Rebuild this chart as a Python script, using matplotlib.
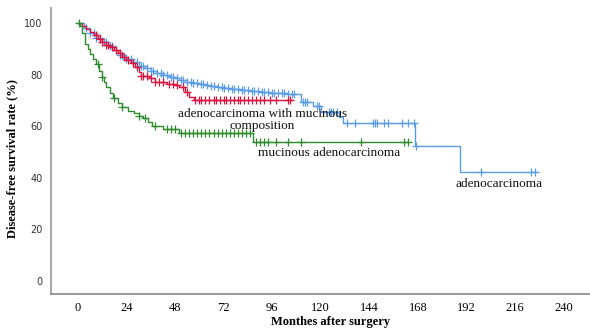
import matplotlib
matplotlib.use("Agg")
import matplotlib.pyplot as plt
import numpy as np

# step curves: (time in months, survival %)
adeno_t = [0, 3, 6, 9, 12, 15, 18, 21, 24, 27, 30, 33, 36, 39, 42, 45, 48, 51, 54, 57,
           60, 63, 66, 69, 72, 76, 80, 85, 90, 95, 100, 104, 108, 110, 116, 120, 129, 131,
           166.4, 188.6, 226.7]
adeno_s = [100, 98, 96, 94.2, 92.5, 91, 89.5, 87.7, 86, 84.7, 83.5, 82.5, 81.5, 80.6, 79.8,
           79.1, 78.5, 77.9, 77.3, 76.7, 76.2, 75.8, 75.5, 75.1, 74.8, 74.4, 74, 73.7, 73.3,
           73, 72.8, 72.5, 72.3, 69.4, 67.8, 65.5, 63.6, 61.2, 52.3, 42.2, 42.2]

mixed_t = [0, 2, 4, 6, 8, 10, 12, 14, 16, 18, 20, 22, 24, 26, 28, 30, 31, 35, 38, 44, 48,
           50, 53, 55, 57.5, 106]
mixed_s = [100, 98.8, 97.6, 96.5, 95.2, 93.6, 92.5, 91.5, 90.5, 89.5, 88.4, 87, 85.5, 84.5,
           83, 81, 79.5, 78.6, 77, 76.5, 76, 75, 73.3, 71.5, 70, 70]

mucin_t = [0, 1, 2, 3.5, 5, 6, 7.5, 9, 10.5, 12, 13, 14, 16, 17.5, 20, 22, 25, 27.5, 30,
           32, 34.5, 36.5, 42, 50, 86.5, 163]
mucin_s = [100, 99, 96, 92, 90, 88, 86, 84, 81.5, 79, 77, 75, 73, 71, 69, 67.5, 66, 65, 64,
           63, 61.5, 60, 59, 57.3, 53.8, 53.8]

# censored observations (months)
adeno_cens = [4, 6, 8, 9, 11, 13, 14, 16, 17, 19, 21, 22, 24, 26, 27, 29, 31, 32, 34, 36, 37,
              39, 41, 42, 44, 46, 47, 49, 51, 52, 54, 56, 57, 59, 61, 62, 64, 66, 67, 69, 71,
              72, 74, 76, 77, 79, 81, 82, 84, 86, 87, 89, 91, 92, 94, 96, 97, 99, 101, 102,
              104, 106, 107, 111, 112, 113, 118, 119, 124, 125, 126, 128, 133, 137, 146, 147,
              148, 151, 153, 160, 163, 166, 167, 199, 224, 226]
mixed_cens = [9, 11, 12, 14, 15, 17, 19, 21, 23, 25, 27, 29, 31, 32, 34, 36, 38, 40, 42, 45,
              47, 49, 52, 54, 58, 60, 61, 63, 65, 67, 68, 70, 72, 73, 75, 77, 79, 80, 82, 84,
              86, 88, 90, 92, 95, 98, 104, 105]
mucin_cens = [0.5, 10, 12, 18, 22, 30, 33, 38, 44, 46, 48, 51, 53, 55, 57, 59, 61, 63, 65,
              67, 69, 71, 73, 75, 77, 79, 81, 83, 85, 88, 90, 92, 94, 98, 104, 110, 140,
              161, 163]

groups = [
    ("adenocarcinoma", adeno_t, adeno_s, adeno_cens, "#5b9ce8"),
    ("adenocarcinoma with mucinous composition", mixed_t, mixed_s, mixed_cens, "#d8143f"),
    ("mucinous adenocarcinoma", mucin_t, mucin_s, mucin_cens, "#2e8b2e"),
]

fig = plt.figure(figsize=(5.9, 3.29), dpi=100)
ax = fig.add_axes([0.0864, 0.1064, 0.9136, 0.8693])

for name, t, s, cens, col in groups:
    t = np.array(t)
    s = np.array(s)
    ax.step(t, s, where="post", color=col, lw=1.0)
    c = np.array(cens, dtype=float)
    idx = np.searchsorted(t, c, side="right") - 1
    ax.plot(c, s[idx], ls="none", marker="+", ms=5.5, mew=0.9, color=col)

serif = "Liberation Serif"
ax.text(91, 62.5, "adenocarcinoma with mucinous\ncomposition", family=serif, fontsize=9.5,
        ha="center", va="center", linespacing=1.0, color="#111111")
ax.text(124, 49.5, "mucinous adenocarcinoma", family=serif, fontsize=9.5,
        ha="center", va="center", color="#111111")
ax.text(208, 37.5, "adenocarcinoma", family=serif, fontsize=9.5,
        ha="center", va="center", color="#111111")

ax.set_xlim(-13.3, 253)
ax.set_ylim(-5.0, 105.8)
ax.set_xticks(np.arange(0, 241, 24))
ax.set_yticks(np.arange(0, 101, 20))
for lab in ax.get_xticklabels():
    lab.set_family(serif)
    lab.set_fontsize(9)
for lab in ax.get_yticklabels():
    lab.set_family("DejaVu Sans")
    lab.set_fontsize(7)
    lab.set_color("#333333")
ax.tick_params(axis="both", length=0)
ax.tick_params(axis="x", pad=6)
ax.tick_params(axis="y", pad=6)

ax.spines["top"].set_visible(False)
ax.spines["right"].set_visible(False)
ax.spines["left"].set_color("#aaaaaa")
ax.spines["left"].set_linewidth(1.5)
ax.spines["bottom"].set_color("#888888")
ax.spines["bottom"].set_linewidth(1.2)

ax.set_ylabel("Disease-free survival rate (%)", family=serif, fontsize=9, fontweight="bold")
ax.yaxis.set_label_coords(-0.061, 0.475)
ax.set_xlabel("Monthes after surgery", family=serif, fontsize=9, fontweight="bold")
ax.xaxis.set_label_coords(0.518, -0.078)

fig.savefig("out.png", dpi=100)
